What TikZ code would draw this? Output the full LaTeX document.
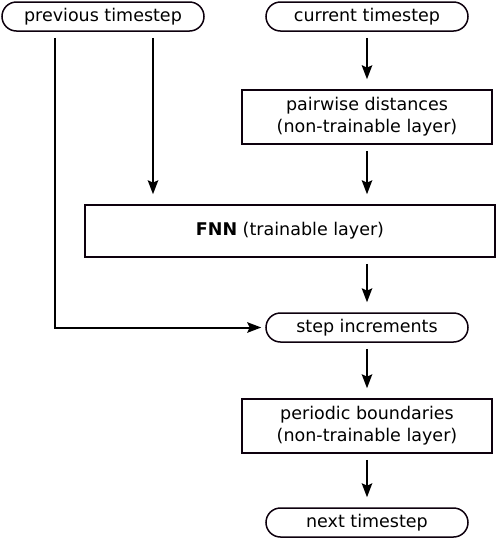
\documentclass[tikz,border=0pt]{standalone}
\usepackage{fontspec}
\setmainfont{DejaVu Sans}
\usetikzlibrary{arrows.meta,calc}
\begin{document}
\begin{tikzpicture}[x=1pt,y=-1pt,
  term/.style={draw=black!90!violet,line width=1.5pt,rounded corners=14.5pt,minimum width=202pt,minimum height=29pt,inner sep=0pt,font=\fontsize{17.5}{22}\selectfont},
  layer/.style={draw=black!90!violet,line width=1.5pt,minimum width=250pt,minimum height=54pt,inner sep=0pt,align=center,font=\fontsize{17.5}{22}\selectfont},
  tip/.style={-{Stealth[length=14pt,width=10.5pt,inset=2.5pt]}},
  arr/.style={line width=2pt,tip,shorten <=6pt,shorten >=10pt}]
\useasboundingbox (0,0) rectangle (498,539);
\node[term] (prev) at (103,16.5) {previous timestep};
\node[term] (cur) at (367,16.5) {current timestep};
\node[layer] (pair) at (367,117) {pairwise distances\\(non-trainable layer)};
\node[layer,minimum width=410pt,minimum height=52pt] (fnn) at (290,231) {\textbf{FNN} (trainable layer)};
\node[term] (step) at (367,327.5) {step increments};
\node[layer] (per) at (367,426) {periodic boundaries\\(non-trainable layer)};
\node[term] (next) at (367,522.5) {next timestep};
\coordinate (pl) at ($(prev.south)+(-48,0)$);
\coordinate (pr) at ($(prev.south)+(50,0)$);
\draw[arr] (cur) -- (pair);
\draw[arr] (pair) -- (step |- fnn.north);
\draw[arr] (pr) -- (pr |- fnn.north);
\draw[arr] (fnn.south -| step) -- (step);
\draw[arr] (step) -- (per);
\draw[arr] (per) -- (next);
\draw[line width=2pt,tip,shorten <=6pt,shorten >=4pt] (pl) |- (step.west);
\end{tikzpicture}
\end{document}
